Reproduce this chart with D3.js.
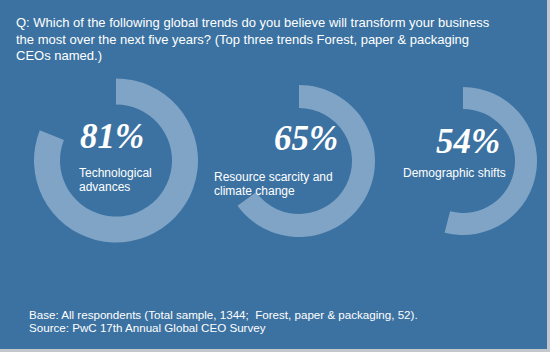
<!DOCTYPE html>
<html>
<head>
<meta charset="utf-8">
<script src="https://cdn.jsdelivr.net/npm/d3@7"></script>
<style>
  html, body { margin: 0; padding: 0; background: #fff; }
  svg { display: block; }
  text { white-space: pre; }
</style>
</head>
<body>
<div id="chart"></div>
<script>
// Data
const trends = ["Technological advances", "Resource scarcity and climate change", "Demographic shifts"]
const shares = [81, 65, 54]
const labelLines = [["Technological", "advances"], ["Resource scarcity and", "climate change"], ["Demographic shifts"]]
const titleLines = [
  "Q: Which of the following global trends do you believe will transform your business",
  "the most over the next five years? (Top three trends Forest, paper & packaging",
  "CEOs named.)",
]
const footLines = [
  "Base: All respondents (Total sample, 1344;  Forest, paper & packaging, 52).",
  "Source: PwC 17th Annual Global CEO Survey",
]

// Layout (per ring)
const rings = [
  {cx: 116, cy: 160.5, r0: 56, r1: 82, numX: 112, numY: 148, labX: 79, labY: 177},
  {cx: 299, cy: 161, r0: 53, r1: 76, numX: 306, numY: 150, labX: 214, labY: 181},
  {cx: 463, cy: 161, r0: 52, r1: 74, numX: 468, numY: 153, labX: 403, labY: 177},
]

const W = 550, H = 352
const BG = "#3b72a1", RING = "#7fa4c6"

const svg = d3.select("#chart").append("svg").attr("width", W).attr("height", H)

svg.append("rect").attr("width", W).attr("height", H).attr("fill", "#c4c8cc")
svg.append("rect").attr("width", W - 3).attr("height", H - 3).attr("fill", BG)

const angle = d3.scaleLinear().domain([0, 100]).range([0, 2 * Math.PI])

const g = svg.append("g")

trends.forEach((t, i) => {
  const L = rings[i]
  const arc = d3.arc().innerRadius(L.r0).outerRadius(L.r1).startAngle(0).endAngle(angle(shares[i]))
  g.append("path")
    .attr("transform", `translate(${L.cx},${L.cy})`)
    .attr("d", arc())
    .attr("fill", RING)

  g.append("text")
    .attr("x", L.numX)
    .attr("y", L.numY)
    .attr("text-anchor", "middle")
    .attr("font-family", "'Liberation Serif', 'DejaVu Serif', serif")
    .attr("font-weight", "bold")
    .attr("font-style", "italic")
    .attr("font-size", 35)
    .attr("fill", "#fff")
    .text(shares[i] + "%")

  const lab = g.append("text")
    .attr("font-family", "'Liberation Sans', Arial, sans-serif")
    .attr("font-size", 12)
    .attr("fill", "#fff")
  labelLines[i].forEach((ln, j) => {
    lab.append("tspan").attr("x", L.labX).attr("y", L.labY + j * 13.5).text(ln)
  })
})

const title = svg.append("text")
  .attr("font-family", "'Liberation Sans', Arial, sans-serif")
  .attr("font-size", 13)
  .attr("fill", "#fff")
titleLines.forEach((ln, j) => {
  title.append("tspan").attr("x", 16).attr("y", 27 + j * 16.5).text(ln)
})

const foot = svg.append("text")
  .attr("font-family", "'Liberation Sans', Arial, sans-serif")
  .attr("font-size", 11.6)
  .attr("fill", "#fff")
footLines.forEach((ln, j) => {
  foot.append("tspan").attr("x", 29).attr("y", 319 + j * 13).text(ln)
})
</script>
</body>
</html>
